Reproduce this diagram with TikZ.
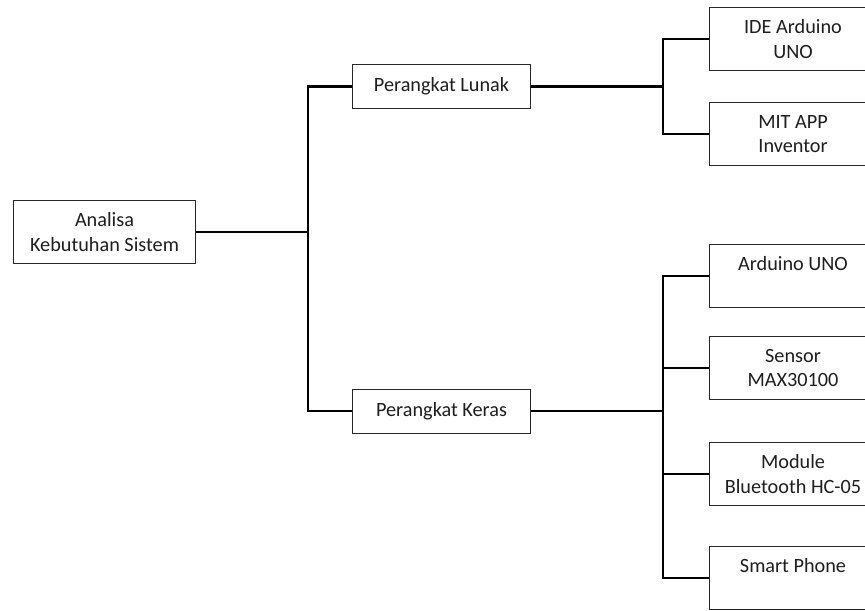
\documentclass[tikz,border=0pt]{standalone}
\usepackage{fontspec}
\setmainfont{Carlito}
\usepackage{tikz}
\usetikzlibrary{positioning,calc}
\definecolor{boxline}{RGB}{40,40,40}
\definecolor{boxtext}{RGB}{30,30,30}

\begin{document}
\begin{tikzpicture}[
x=0.025cm, y=-0.025cm,
font=\fontsize{14.4}{17.3}\selectfont,
box/.style={draw=boxline, line width=0.7pt, align=center, text=boxtext, inner sep=0pt},
mainbox/.style={box, minimum width=4.525cm, minimum height=1.575cm},
groupbox/.style={box, minimum width=4.425cm, minimum height=1.1cm},
itembox/.style={box, minimum width=4.2cm, minimum height=1.575cm},
line/.style={line width=1.8pt, black}
]
\useasboundingbox (0,0) rectangle (865,610);
\clip (0,0) rectangle (865,610);
\fill[white] (0,0) rectangle (865,610);

% root and the two groups
\node[mainbox] (analisa) at (104.5,232) {Analisa\\Kebutuhan Sistem};
\node[groupbox] (lunak) at (441.5,86.5) {Perangkat Lunak};
\node[groupbox] (keras) at (441.5,411) {Perangkat Keras};

% software items
\node[itembox] (ide) at (793,39) {IDE Arduino\\UNO};
\node[itembox] (mit) at (793,134) {MIT APP\\Inventor};

% hardware items
\node[itembox] (arduino) at (793,276) {Arduino UNO\\~};
\node[itembox] (sensor) at (793,368) {Sensor\\MAX30100};
\node[itembox] (module) at (793,474) {Module\\Bluetooth HC-05};
\node[itembox] (phone) at (793,578) {Smart Phone\\~};

\coordinate (jroot) at (308,232);
\coordinate (jlunak) at (663,86.5);
\coordinate (jkeras) at (663,411);

\draw[line] (analisa.east) -- (jroot);
\draw[line] (lunak.west) -| (jroot) |- (keras.west);
\draw[line] (lunak.east) -- (jlunak);
\draw[line] (ide.west) -| (jlunak) |- (mit.west);
\draw[line] (keras.east) -- (jkeras);
\draw[line] (arduino.west) -| (jkeras) |- (phone.west);
\draw[line] (sensor.west) -- (sensor.west -| jkeras);
\draw[line] (module.west) -- (module.west -| jkeras);
\end{tikzpicture}
\end{document}
